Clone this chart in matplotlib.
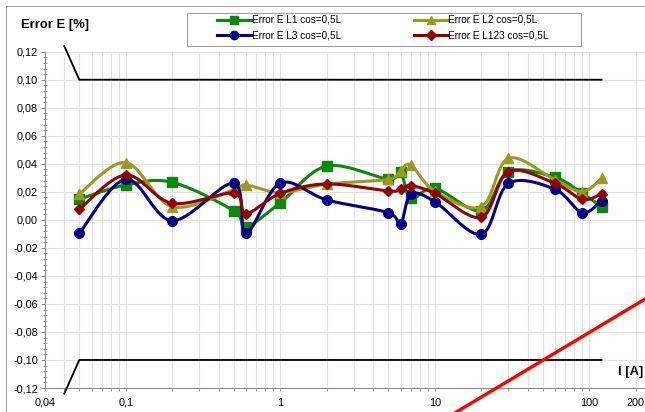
import numpy as np
import matplotlib
matplotlib.use("Agg")
import matplotlib.pyplot as plt
from matplotlib.ticker import FixedLocator, MultipleLocator, FuncFormatter, LogLocator, NullFormatter
from matplotlib.lines import Line2D
from matplotlib.patches import Rectangle

plt.rcParams['font.family'] = ['Liberation Sans', 'DejaVu Sans']

# ---- data ----
current = [0.05, 0.1, 0.2, 0.5, 0.6, 1, 2, 5, 6, 7, 10, 20, 30, 60, 90, 120]
err_L1 = [0.0147, 0.0249, 0.0268, 0.0065, -0.0049, 0.0122, 0.0384, 0.0290, 0.0340, 0.0154,
          0.0225, 0.0065, 0.0344, 0.0303, 0.0189, 0.0094]
err_L2 = [0.0184, 0.0408, 0.0094, 0.0215, 0.0249, 0.0195, 0.0255, 0.0289, 0.0350, 0.0391,
          0.0205, 0.0094, 0.0439, 0.0285, 0.0201, 0.0296]
err_L3 = [-0.0096, 0.0289, -0.0006, 0.0262, -0.0096, 0.0262, 0.0142, 0.0051, -0.0032, 0.0182,
          0.0130, -0.0103, 0.0260, 0.0218, 0.0051, 0.0137]
err_L123 = [0.0075, 0.0320, 0.0118, 0.0190, 0.0045, 0.0189, 0.0256, 0.0206, 0.0218, 0.0244,
            0.0189, 0.0018, 0.0344, 0.0260, 0.0147, 0.0184]
labels = ['Error E L1 cos=0,5L', 'Error E L2 cos=0,5L', 'Error E L3 cos=0,5L', 'Error E L123 cos=0,5L']

limit_x = [0.04, 0.05, 120]
limit_upper = [0.124, 0.10, 0.10]
limit_lower = [-0.124, -0.10, -0.10]

red_x = [10, 300]
red_y = [-0.1464, -0.0489]

xtick_vals = [0.03, 0.1, 1, 10, 100, 200]
xtick_labels = ['0,04', '0,1', '1', '10', '100', '200']

colors = ['#0a8a0a', '#9a9a1e', '#000088', '#960000']
markers = ['s', '^', 'o', 'D']
msizes = [6.5, 7.5, 7.0, 5.5]


def smooth(xs, ys, n=24):
    P = np.column_stack([np.log10(xs), np.asarray(ys, float)])
    out = [P[0]]
    t = np.linspace(0, 1, n)[1:, None]
    for i in range(len(P) - 1):
        p0 = P[i - 1] if i > 0 else P[i]
        p1, p2 = P[i], P[i + 1]
        p3 = P[i + 2] if i + 2 < len(P) else P[i + 1]
        c1 = p1 + (p2 - p0) / 6
        c2 = p2 - (p3 - p1) / 6
        seg = (1 - t) ** 3 * p1 + 3 * (1 - t) ** 2 * t * c1 + 3 * (1 - t) * t ** 2 * c2 + t ** 3 * p2
        out.extend(seg)
    out = np.array(out)
    return 10 ** out[:, 0], out[:, 1]


W, H = 645, 412
fig = plt.figure(figsize=(W / 100, H / 100), dpi=100)
fig.patch.set_facecolor('white')

# outer chart frame
fig.patches.append(Rectangle((6 / W, -0.1), 1.2, 1.1 - 6 / H, transform=fig.transFigure,
                             fill=False, edgecolor='#a8a8a8', lw=0.8))

xmin, xmax = 0.03, 286.9
ax = fig.add_axes([45 / W, 24 / H, 615 / W, 336.3 / H])
ax.set_xscale('log')
ax.set_xlim(xmin, xmax)
ax.set_ylim(-0.12, 0.12)

ax.set_xticks(xtick_vals)
ax.set_xticklabels(xtick_labels)
ax.xaxis.set_minor_locator(LogLocator(base=10, subs=np.arange(2, 10)))
ax.xaxis.set_minor_formatter(NullFormatter())
ax.yaxis.set_major_locator(MultipleLocator(0.02))
ax.yaxis.set_minor_locator(MultipleLocator(0.004))


def yfmt(v, p):
    s = f"{v:.2f}"
    if s == '-0.00':
        s = '0.00'
    return s.replace('.', ',')


ax.yaxis.set_major_formatter(FuncFormatter(yfmt))
ax.grid(which='both', axis='x', color='#e2e2e2', lw=0.8)
ax.grid(which='major', axis='y', color='#e2e2e2', lw=0.8)
ax.set_axisbelow(True)

for s in ['top', 'right']:
    ax.spines[s].set_visible(False)
for s in ['left', 'bottom']:
    ax.spines[s].set_color('#8c8c8c')
    ax.spines[s].set_linewidth(0.8)

ax.tick_params(axis='y', which='major', direction='out', length=3, width=0.8, color='#8c8c8c',
               labelsize=7.8, pad=2)
ax.tick_params(axis='y', which='minor', direction='inout', length=3, width=0.6, color='#8c8c8c')
ax.tick_params(axis='x', which='both', direction='out', length=2, width=0.6, color='#8c8c8c',
               labelsize=7.8, pad=5)

# limit lines
ax.plot(limit_x, limit_upper, color='black', lw=1.3, clip_on=False, zorder=3)
ax.plot(limit_x, limit_lower, color='black', lw=1.3, clip_on=False, zorder=3)

# red line
ax.plot(red_x, red_y, color='#ff0000', lw=2.4, clip_on=False, zorder=3)

series = [err_L1, err_L2, err_L3, err_L123]
handles = []
for i, ys in enumerate(series):
    sx, sy = smooth(current, ys)
    ax.plot(sx, sy, color=colors[i], lw=2.2, zorder=4 + i, solid_capstyle='round')
    ax.plot(current, ys, linestyle='none', marker=markers[i], ms=msizes[i], color=colors[i],
            mec=colors[i], zorder=4 + i)
    handles.append(Line2D([], [], color=colors[i], lw=2.2, marker=markers[i], ms=msizes[i] * 0.85,
                          mec=colors[i]))

# legend box
fig.patches.append(Rectangle((187 / W, 1 - 46 / H), (581 - 187) / W, 33 / H, transform=fig.transFigure,
                             facecolor='white', edgecolor='#a0a0a0', lw=0.8))
order = [0, 2, 1, 3]
fig.legend([handles[k] for k in order], [labels[k] for k in order], ncol=2, loc='upper left',
           bbox_to_anchor=(217 / W, 1 - 15 / H), bbox_transform=fig.transFigure, frameon=False,
           fontsize=7.2, handlelength=3.4, handletextpad=0.05, columnspacing=7.3, borderpad=0,
           borderaxespad=0, labelspacing=0.55)

fig.text(21 / W, 1 - 25 / H, 'Error E [%]', fontsize=9.4, fontweight='bold', ha='left', va='center')
fig.text(643 / W, 1 - 372 / H, 'I [A]', fontsize=9.4, fontweight='bold', ha='right', va='center')

fig.savefig('out.png', dpi=100, facecolor='white')
